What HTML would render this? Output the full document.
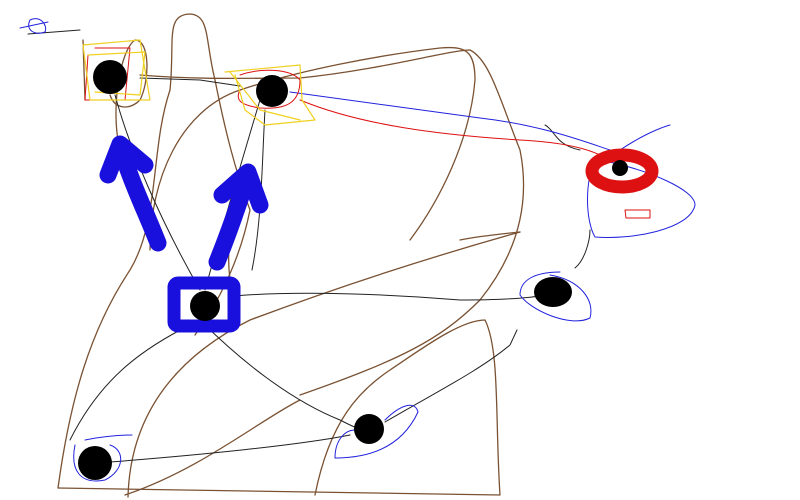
<!DOCTYPE html><html><head><style>body{margin:0;background:#fff}svg{display:block}</style></head><body>
<svg width="800" height="500" viewBox="0 0 800 500" xmlns="http://www.w3.org/2000/svg" fill="none" stroke-linecap="round" stroke-linejoin="round">
<g stroke="#7a5233" stroke-width="1.3">
<path d="M58,488 C70,400 90,330 130,270 C160,220 150,150 170,90 C175,40 165,15 190,14 C210,15 205,40 215,80 C225,130 235,170 250,210 C240,260 220,300 195,335"/>
<path d="M58,488 L500,495 C495,420 500,350 485,320 C460,320 420,350 390,370 C360,390 330,420 315,495"/>
<path d="M128,497 C130,420 170,360 250,320 C330,290 420,260 520,232"/>
<path d="M125,495 C200,470 260,420 300,400"/>
<path d="M460,240 C480,236 500,234 520,232"/>
<path d="M140,75 C200,80 250,78 300,78 C380,70 450,50 470,50 C490,60 500,100 520,150 C530,200 520,250 480,300 C440,340 400,360 300,395"/>
<path d="M150,250 C150,180 180,110 240,90 C300,70 380,55 440,48 C465,46 475,50 475,80 C470,140 440,200 410,240"/>
<path d="M120,150 C110,110 120,50 135,40 C150,40 150,80 140,100 C130,110 115,110 110,95"/>
<path d="M83,40 L85,100 M230,280 C225,240 235,200 250,190"/>
</g>
<g stroke="#222" stroke-width="1">
<path d="M140,78 L200,80 L240,86"/>
<path d="M115,95 C130,150 160,220 200,290"/>
<path d="M260,100 C245,150 230,200 205,290"/>
<path d="M265,110 C262,160 262,220 252,270"/>
<path d="M235,296 C300,290 400,295 460,300 C500,300 530,298 545,295"/>
<path d="M200,320 C240,360 290,400 340,420 C350,425 355,428 365,430"/>
<path d="M190,325 C140,350 100,380 70,440"/>
<path d="M110,462 C200,455 300,445 350,435"/>
<path d="M385,422 C440,390 480,370 510,345 L517,330"/>
<path d="M28,34 L80,30 M545,125 C555,130 555,145 580,150"/>
<path d="M575,268 C585,260 590,240 590,230"/>
</g>
<g stroke="#2222dd" stroke-width="1">
<path d="M290,92 C350,100 420,110 480,118 C540,125 580,140 610,150"/>
<path d="M550,275 C580,280 595,300 590,318 C570,328 530,310 520,295 C520,280 535,272 560,272"/>
<path d="M385,420 C400,405 415,400 418,412 C405,440 380,458 335,458 C335,440 345,430 355,430"/>
<path d="M85,440 C110,435 130,435 132,435 M75,445 C70,470 80,485 105,480 C125,470 125,450 110,445"/>
<path d="M620,150 C650,130 670,125 670,125 M600,160 C650,170 695,190 695,205 C690,230 630,240 595,237 C585,220 585,180 595,160"/>
<path d="M30,20 C40,15 48,25 45,32 C35,36 25,30 30,20 M20,28 L48,22"/>
</g>
<g stroke="#dd1111" stroke-width="1">
<path d="M300,100 C360,125 440,135 520,140 C560,142 585,148 600,155"/>
<path d="M240,90 C235,100 240,105 260,108 C290,110 300,100 300,80 C290,68 260,68 240,75"/>
<path d="M88,55 L85,100 L125,100 L130,48 L95,48"/>
<path d="M625,210 L650,210 L650,218 L626,218 Z"/>
</g>
<g stroke="#f0d020" stroke-width="1.2">
<path d="M83,45 L140,40 L150,100 L90,100 Z M88,55 L145,52 L140,95 L95,92"/>
<path d="M225,72 L300,65 L302,100 L315,120 L265,125 L245,110 L235,75 M230,72 L260,110 L300,120"/>
</g>
<g stroke="#1a10dd" stroke-width="17">
<path d="M158,243 C145,210 130,180 120,145"/>
<path d="M108,175 L120,144 L145,165"/>
<path d="M217,262 C230,230 240,200 248,175"/>
<path d="M222,195 L248,172 L260,205"/>
<rect x="174" y="283" width="60" height="43" rx="4" stroke-width="13"/>
</g>
<ellipse cx="622" cy="171" rx="30" ry="16" stroke="#dd1111" stroke-width="13"/>
<g fill="#000">
<circle cx="110" cy="77" r="17"/>
<circle cx="272" cy="91" r="16"/>
<circle cx="205" cy="306" r="15"/>
<ellipse cx="553" cy="292" rx="19" ry="15"/>
<circle cx="369" cy="429" r="15"/>
<circle cx="95" cy="463" r="17"/>
<circle cx="620" cy="168" r="8"/>
</g>
</svg>
</body></html>
